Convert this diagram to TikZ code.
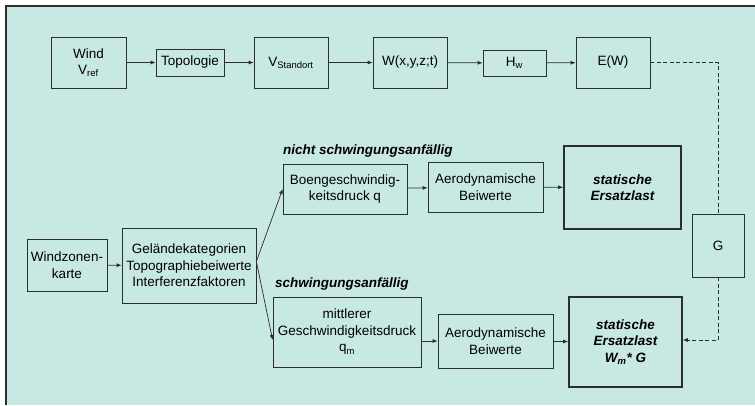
\documentclass[tikz,border=0pt]{standalone}
\usepackage{fontspec}
\setmainfont{Liberation Sans}
\usetikzlibrary{arrows.meta,calc}
\definecolor{panel}{RGB}{200,232,227}
\definecolor{ink}{RGB}{45,45,45}
\tikzset{
  box/.style={draw=ink, line width=0.7pt, align=center, inner sep=0pt,
    font=\fontsize{13.5}{16.5}\selectfont},
  resbox/.style={box, line width=1.6pt, font=\fontsize{13.5}{16.5}\selectfont\bfseries\itshape},
  flow/.style={draw=ink, line width=0.7pt, -{Latex[length=5pt,width=4pt]}},
  feed/.style={flow, dashed, dash pattern=on 4pt off 2.5pt},
  caption/.style={anchor=base west, inner sep=0pt, font=\fontsize{13.5}{16.5}\selectfont\bfseries\itshape}
}
\begin{document}
\begin{tikzpicture}[x=1pt,y=-1pt]
  \useasboundingbox (0,0) rectangle (755,405);
  % panel
  \fill[panel] (6,6) rectangle (755,405);
  \draw[ink, line width=1.4pt] (6,405) -- (6,6) -- (755,6);
  % top row
  \node[box, minimum width=75, minimum height=51] (wind) at (88.5,62.5) {Wind\\V\textsubscript{ref}};
  \node[box, minimum width=68, minimum height=27] (topo) at (190,62.5) {Topologie};
  \node[box, minimum width=74, minimum height=51] (vstand) at (291,62.5) {V\textsubscript{Standort}};
  \node[box, minimum width=74, minimum height=51] (wxyz) at (410,62.5) {W(x,y,z;t)};
  \node[box, minimum width=63, minimum height=26] (hw) at (514.5,63) {H\textsubscript{w}};
  \node[box, minimum width=74, minimum height=51] (ew) at (613,62.5) {E(W)};
  % G factor
  \node[box, minimum width=52, minimum height=63] (g) at (718,245.5) {G};
  % input side
  \node[box, minimum width=80, minimum height=52] (zone) at (67,265) {Windzonen-\\karte};
  \node[box, minimum width=134, minimum height=75] (gel) at (189,265.5) {Geländekategorien\\Topographiebeiwerte\\Interferenzfaktoren};
  % upper branch
  \node[caption] (capA) at (283,154) {nicht schwingungsanfällig};
  \node[box, minimum width=124, minimum height=50] (boen) at (345,189) {Boengeschwindig-\\keitsdruck q};
  \node[box, minimum width=115, minimum height=50] (aero1) at (485.5,187) {Aerodynamische\\Beiwerte};
  \node[resbox, minimum width=117, minimum height=83] (stat1) at (622.5,187.5) {statische\\Ersatzlast};
  % lower branch
  \node[caption] (capB) at (275,287) {schwingungsanfällig};
  \node[box, minimum width=148, minimum height=70] (mittel) at (347,332) {mittlerer\\Geschwindigkeitsdruck\\q\textsubscript{m}};
  \node[box, minimum width=115, minimum height=54] (aero2) at (495.5,341) {Aerodynamische\\Beiwerte};
  \node[resbox, minimum width=113, minimum height=90] (stat2) at (625.5,342) {statische\\Ersatzlast\\W\textsubscript{m}* G};
  % connectors
  \draw[flow] (wind) -- (topo);
  \draw[flow] (topo) -- (vstand);
  \draw[flow] (vstand) -- (wxyz);
  \draw[flow] (wxyz) -- (hw);
  \draw[flow] (hw) -- (ew);
  \draw[flow] (zone) -- (gel);
  \draw[flow] ([yshift=4]gel.east) -- (boen.west);
  \draw[flow] ([yshift=4]gel.east) -- ([yshift=-8]mittel.west);
  \draw[flow] (boen) -- (aero1);
  \draw[flow] (aero1) -- (stat1);
  \draw[flow] ([yshift=-9]mittel.east) -- (aero2.west);
  \draw[flow] (aero2) -- (stat2);
  \draw[feed, -] (ew.east) -| (g.north);
  \draw[feed] (g.south) |- ([yshift=2]stat2.east);
\end{tikzpicture}
\end{document}
